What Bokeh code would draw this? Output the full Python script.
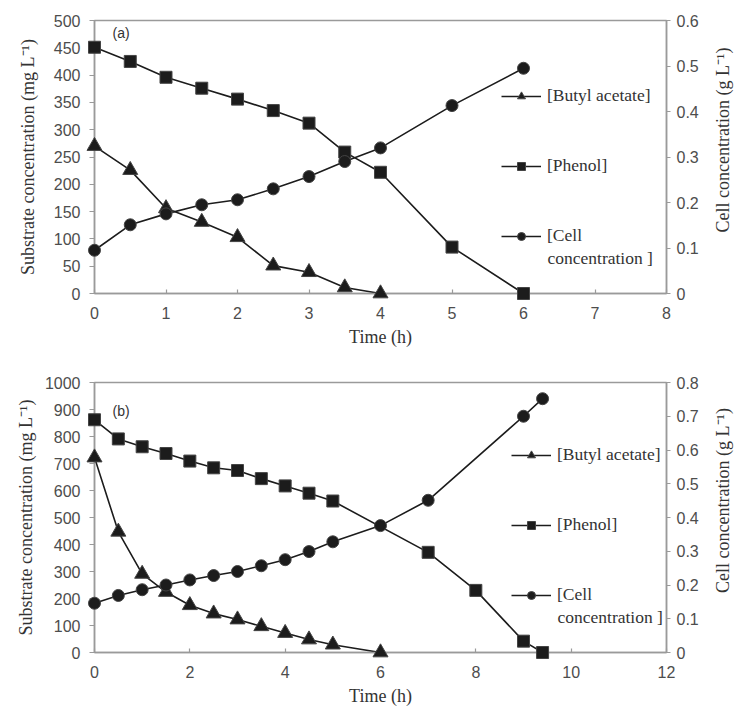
import math
from bokeh.plotting import figure
from bokeh.models import Range1d, LinearAxis, FixedTicker, Legend, LegendItem, Label
from bokeh.core.properties import value
from bokeh.layouts import column
from bokeh.embed import file_html
from bokeh.resources import INLINE

# ---------------- Panel (a) data ----------------
time_a_butyl = [0, 0.5, 1, 1.5, 2, 2.5, 3, 3.5, 4]
butyl_a = [270, 226, 156, 131, 103, 51, 39, 11, 0]
time_a_phenol = [0, 0.5, 1, 1.5, 2, 2.5, 3, 3.5, 4, 5, 6]
phenol_a = [451, 425, 396, 376, 356, 335, 312, 259, 222, 85, 0]
time_a_cell = [0, 0.5, 1, 1.5, 2, 2.5, 3, 3.5, 4, 5, 6]
cell_a = [0.095, 0.151, 0.175, 0.195, 0.206, 0.230, 0.257, 0.290, 0.320, 0.413, 0.495]
xticks_a = [0, 1, 2, 3, 4, 5, 6, 7, 8]
yticks_a = [0, 50, 100, 150, 200, 250, 300, 350, 400, 450, 500]
cticks_a = [0, 0.1, 0.2, 0.3, 0.4, 0.5, 0.6]

# ---------------- Panel (b) data ----------------
time_b_butyl = [0, 0.5, 1, 1.5, 2, 2.5, 3, 3.5, 4, 4.5, 5, 6]
butyl_b = [722, 447, 291, 224, 175, 144, 122, 97, 72, 48, 29, 0]
time_b_phenol = [0, 0.5, 1, 1.5, 2, 2.5, 3, 3.5, 4, 4.5, 5, 7, 8, 9, 9.4]
phenol_b = [862, 791, 762, 737, 709, 684, 674, 644, 617, 590, 561, 371, 230, 42, 0]
time_b_cell = [0, 0.5, 1, 1.5, 2, 2.5, 3, 3.5, 4, 4.5, 5, 6, 7, 9, 9.4]
cell_b = [0.146, 0.169, 0.186, 0.200, 0.215, 0.228, 0.240, 0.257, 0.275, 0.299, 0.328, 0.376, 0.451, 0.700, 0.752]
xticks_b = [0, 2, 4, 6, 8, 10, 12]
yticks_b = [0, 100, 200, 300, 400, 500, 600, 700, 800, 900, 1000]
cticks_b = [0, 0.1, 0.2, 0.3, 0.4, 0.5, 0.6, 0.7, 0.8]

labels = ["[Butyl acetate]", "[Phenol]", "[Cell"]
label_cont = "concentration ]"
left_title = "Substrate concentration (mg L\u207b\u00b9)"
right_title = "Cell concentration (g L\u207b\u00b9)"
x_title = "Time (h)"

DARK = "#1c1c1c"
AXIS = "#9a9a9a"
TICKLBL = "#4d4d4d"
SERIF = "Liberation Serif"
SANS = "Liberation Sans"


def style_axis(ax, label_standoff):
    ax.axis_line_color = AXIS
    ax.axis_line_width = 1.5
    ax.major_tick_line_color = AXIS
    ax.major_tick_line_width = 1.2
    ax.minor_tick_line_color = None
    ax.major_label_text_font = SANS
    ax.major_label_text_font_size = "16px"
    ax.major_label_text_color = TICKLBL
    ax.axis_label_text_font = SERIF
    ax.axis_label_text_font_size = "18px"
    ax.axis_label_text_font_style = "normal"
    ax.axis_label_text_color = "#333333"
    ax.axis_label_standoff = label_standoff


def panel(tag, tb, butyl, tp, phenol, tc, cell, xt, yt, ct, height, top, bottom, lstand, tag_y):
    p = figure(width=734, height=height, output_backend="svg", toolbar_location=None,
               x_range=Range1d(xt[0], xt[-1]), y_range=Range1d(yt[0], yt[-1]),
               min_border_left=94, min_border_right=68, min_border_top=top,
               min_border_bottom=bottom)
    p.extra_y_ranges = {"cell": Range1d(ct[0], ct[-1])}
    p.xgrid.visible = False
    p.ygrid.visible = False
    p.outline_line_color = AXIS
    p.outline_line_width = 1.5
    p.background_fill_color = "white"
    p.border_fill_color = "white"

    xa = p.xaxis[0]
    xa.ticker = FixedTicker(ticks=xt)
    xa.axis_label = x_title
    xa.major_tick_in = 4
    xa.major_tick_out = 0
    xa.major_label_standoff = 13
    style_axis(xa, 5)

    ya = p.yaxis[0]
    ya.ticker = FixedTicker(ticks=yt)
    ya.axis_label = left_title
    ya.major_tick_in = 0
    ya.major_tick_out = 5
    ya.major_label_standoff = 9
    style_axis(ya, lstand)

    ra = LinearAxis(y_range_name="cell", ticker=FixedTicker(ticks=ct))
    ra.major_tick_in = 0
    ra.major_tick_out = 4
    ra.major_label_standoff = 6
    ra.major_label_overrides = {0: "0"}
    style_axis(ra, 7)
    p.add_layout(ra, "right")

    lb = p.line(tb, butyl, line_color=DARK, line_width=1.6)
    sb = p.scatter(tb, butyl, marker="triangle", size=15, fill_color=DARK, line_color="#444444",
                   line_width=1, level="overlay")
    lp = p.line(tp, phenol, line_color=DARK, line_width=1.6)
    sp = p.scatter(tp, phenol, marker="square", size=12, fill_color=DARK, line_color="#444444",
                   line_width=1, level="overlay")
    lc = p.line(tc, cell, line_color=DARK, line_width=1.6, y_range_name="cell")
    sc = p.scatter(tc, cell, marker="circle", size=12, fill_color=DARK, line_color="#444444",
                   line_width=1, y_range_name="cell", level="overlay")

    items = [LegendItem(label=labels[0], renderers=[lb, sb]),
             LegendItem(label=labels[1], renderers=[lp, sp]),
             LegendItem(label=labels[2], renderers=[lc, sc])]
    offx = 407 if tag == "(a)" else 417
    leg = Legend(items=items, location=(offx, 47), orientation="vertical",
                 glyph_width=40, glyph_height=20, label_height=20, spacing=49,
                 label_standoff=6, padding=0, margin=0,
                 border_line_color=None, background_fill_alpha=0,
                 label_text_font=SERIF, label_text_font_size="17.5px",
                 label_text_color="#333333")
    p.add_layout(leg, "center")

    p.add_layout(Label(x=offx + 46, y=36, x_units="screen", y_units="screen",
                       text=label_cont, text_font=SERIF, text_font_size="17.5px",
                       text_color="#333333", text_baseline="middle"))
    p.add_layout(Label(x=18, y=tag_y, x_units="screen", y_units="screen",
                       text=tag, text_font=SANS, text_font_size="14px",
                       text_color="#333333", text_baseline="middle"))
    # right-hand axis title (reads bottom-to-top, like the left one); anchored to the
    # right end of the x range / middle of the y range and pushed out in pixels
    p.text(x=[xt[-1]], y=[(yt[0] + yt[-1]) / 2], text=[right_title],
           angle=math.pi / 2, text_align="center", text_baseline="middle",
           x_offset=56, y_offset=-17,
           text_font=value(SERIF), text_font_size="18px", text_color="#333333",
           level="overlay")
    return p


pa = panel("(a)", time_a_butyl, butyl_a, time_a_phenol, phenol_a, time_a_cell, cell_a,
           xticks_a, yticks_a, cticks_a, 351, 20, 58, 13, 261)
pb = panel("(b)", time_b_butyl, butyl_b, time_b_phenol, phenol_b, time_b_cell, cell_b,
           xticks_b, yticks_b, cticks_b, 357, 31, 55, 6, 242)

lay = column(pa, pb, spacing=0)
open("out.html", "w").write(file_html(lay, INLINE))
